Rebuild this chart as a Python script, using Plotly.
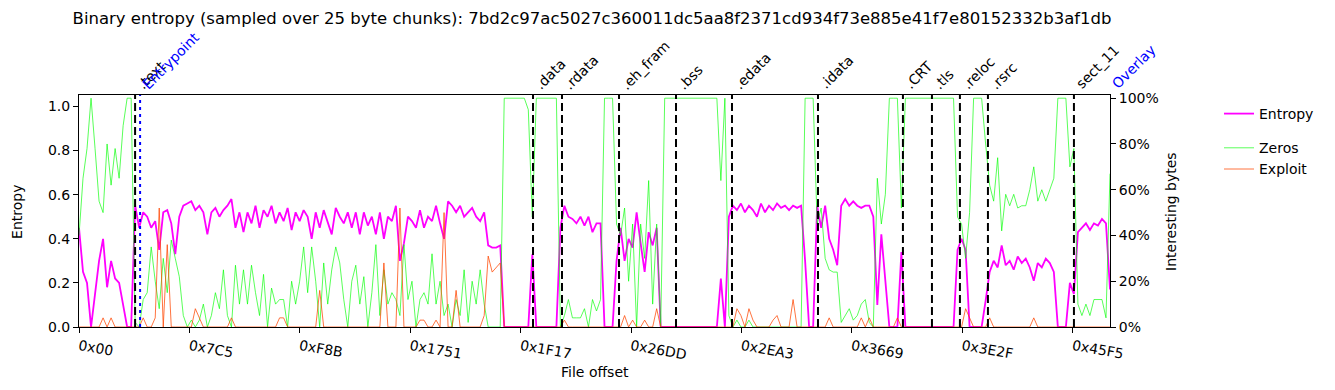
import plotly.graph_objects as go

# ---------------- data ----------------
title_text = ("Binary entropy (sampled over 25 byte chunks): "
              "7bd2c97ac5027c360011dc5aa8f2371cd934f73e885e41f7e80152332b3af1db")

file_size = 18582  # bytes (right edge of the x axis)

entropy = [
    0.45, 0.25, 0.20, 0.0, 0.15, 0.30, 0.40, 0.18, 0.30, 0.22, 0.20, 0.10, 0.0, 0.0, 0.55,
    0.45, 0.52, 0.50, 0.45, 0.48, 0.35, 0.52, 0.53, 0.47, 0.33, 0.50, 0.55, 0.56, 0.57, 0.53,
    0.55, 0.52, 0.42, 0.52, 0.54, 0.50, 0.53, 0.55, 0.58, 0.45, 0.52, 0.43, 0.52, 0.47, 0.55,
    0.45, 0.53, 0.50, 0.55, 0.47, 0.52, 0.48, 0.54, 0.44, 0.52, 0.48, 0.53, 0.50, 0.40, 0.52,
    0.45, 0.53, 0.48, 0.42, 0.54,
    0.50, 0.47, 0.52, 0.45, 0.52, 0.42, 0.52, 0.46, 0.50, 0.42, 0.52, 0.40, 0.50, 0.48, 0.55,
    0.30, 0.38, 0.50, 0.48, 0.45, 0.53, 0.45, 0.50, 0.48, 0.55, 0.47, 0.40, 0.57, 0.55, 0.52,
    0.55, 0.50, 0.52, 0.54, 0.50, 0.48, 0.52, 0.37, 0.36, 0.36, 0.37, 0.0, 0.0, 0.0, 0.0,
    0.0, 0.0, 0.0, 0.33, 0.0, 0.0, 0.0, 0.0, 0.0, 0.0, 0.45, 0.55, 0.50, 0.49, 0.47,
    0.50, 0.46, 0.50, 0.43, 0.47, 0.47, 0.0, 0.0, 0.0, 0.30, 0.45, 0.30, 0.40, 0.36, 0.52,
    0.38, 0.25, 0.43, 0.37, 0.45, 0.0, 0.0, 0.0, 0.0, 0.0, 0.0, 0.0, 0.0, 0.0, 0.0,
    0.0, 0.0, 0.0, 0.0, 0.0, 0.22, 0.0, 0.50, 0.55, 0.53, 0.56, 0.52, 0.55, 0.53, 0.50,
    0.56, 0.52, 0.55, 0.53, 0.56, 0.54, 0.55, 0.53, 0.55, 0.54, 0.55, 0.30, 0.0, 0.0, 0.55,
    0.45, 0.55, 0.40, 0.35, 0.28, 0.55, 0.58, 0.55, 0.57, 0.55, 0.54, 0.55, 0.55, 0.50, 0.10,
    0.42, 0.20, 0.0, 0.0, 0.0, 0.34, 0.0, 0.0, 0.0, 0.0, 0.0, 0.0, 0.0, 0.0, 0.0,
    0.0, 0.0, 0.0, 0.0, 0.35, 0.40, 0.35, 0.0, 0.0, 0.0, 0.0, 0.12, 0.25, 0.30, 0.27,
    0.37, 0.28, 0.30, 0.26, 0.32, 0.29, 0.31, 0.27, 0.21, 0.29, 0.27, 0.31, 0.29, 0.25, 0.0,
    0.0, 0.0, 0.20, 0.15, 0.43, 0.45, 0.47, 0.44, 0.47, 0.46, 0.49, 0.47, 0.17,
]

zeros = [
    0.40, 0.65, 0.78, 1.0, 0.78, 0.55, 0.50, 0.80, 0.62, 0.78, 0.65, 0.88, 1.0, 1.0, 0.02,
    0.0, 0.12, 0.15, 0.35, 0.20, 0.08, 0.30, 0.15, 0.38, 0.30, 0.22, 0.05, 0.0, 0.03, 0.0,
    0.03, 0.10, 0.0, 0.05, 0.15, 0.08, 0.25, 0.05, 0.0, 0.27, 0.10, 0.25, 0.10, 0.27, 0.15,
    0.05, 0.23, 0.0, 0.17, 0.10, 0.12, 0.12, 0.0, 0.20, 0.10, 0.20, 0.35, 0.15, 0.35, 0.20,
    0.0, 0.28, 0.10, 0.25, 0.35,
    0.28, 0.12, 0.0, 0.20, 0.27, 0.10, 0.22, 0.0, 0.15, 0.36, 0.05, 0.25, 0.10, 0.15, 0.12,
    0.05, 0.36, 0.12, 0.20, 0.0, 0.12, 0.15, 0.10, 0.32, 0.10, 0.20, 0.05, 0.10, 0.0, 0.12,
    0.05, 0.25, 0.02, 0.20, 0.10, 0.25, 0.10, 0.0, 0.0, 0.0, 0.0, 1.0, 1.0, 1.0, 1.0,
    1.0, 1.0, 0.95, 0.48, 1.0, 1.0, 1.0, 1.0, 1.0, 1.0, 0.0, 0.05, 0.12, 0.04, 0.04,
    0.04, 0.08, 0.0, 0.12, 0.07, 0.12, 1.0, 1.0, 1.0, 0.45, 0.40, 0.52, 0.20, 0.45, 0.0,
    0.45, 0.30, 0.64, 0.10, 0.45, 0.0, 1.0, 1.0, 1.0, 1.0, 1.0, 1.0, 1.0, 1.0, 1.0,
    1.0, 1.0, 1.0, 1.0, 1.0, 0.64, 1.0, 0.05, 0.0, 0.03, 0.0, 0.0, 0.03, 0.0, 0.0,
    0.0, 0.0, 0.0, 0.0, 0.0, 0.0, 0.0, 0.0, 0.0, 0.0, 0.0, 1.0, 1.0, 1.0, 0.45,
    0.52, 0.30, 0.25, 0.24, 0.24, 0.02, 0.05, 0.08, 0.03, 0.05, 0.10, 0.12, 0.02, 0.0, 0.65,
    0.45, 0.58, 1.0, 1.0, 1.0, 0.52, 1.0, 1.0, 1.0, 1.0, 1.0, 1.0, 1.0, 1.0, 1.0,
    1.0, 1.0, 1.0, 1.0, 0.48, 0.45, 0.30, 0.50, 1.0, 1.0, 1.0, 0.80, 0.62, 0.55, 0.74,
    0.42, 0.58, 0.53, 0.58, 0.52, 0.53, 0.53, 0.60, 0.70, 0.55, 0.60, 0.55, 0.60, 0.65, 1.0,
    1.0, 1.0, 0.70, 0.78, 0.10, 0.05, 0.10, 0.05, 0.12, 0.12, 0.12, 0.04, 0.67,
]

exploit = [
    0, 0, 0, 0, 0, 0, 0.04, 0, 0.04, 0, 0, 0, 0, 0, 0,
    0, 0.04, 0, 0, 0.04, 0.52, 0, 0.36, 0, 0, 0, 0, 0, 0, 0.08,
    0.04, 0, 0, 0, 0, 0, 0, 0, 0.04, 0, 0, 0, 0, 0, 0,
    0, 0, 0, 0, 0, 0.04, 0.04, 0, 0, 0, 0, 0, 0, 0, 0,
    0.16, 0, 0, 0, 0,
    0, 0, 0, 0, 0, 0, 0, 0, 0, 0, 0, 0.28, 0, 0, 0,
    0.52, 0, 0, 0, 0, 0.03, 0.03, 0, 0, 0.03, 0, 0.50, 0, 0, 0.16,
    0, 0, 0, 0, 0, 0, 0.05, 0.31, 0.24, 0.26, 0.28, 0, 0, 0, 0,
    0, 0, 0, 0, 0, 0, 0, 0, 0, 0, 0, 0.03, 0, 0, 0,
    0, 0, 0, 0, 0, 0, 0, 0, 0, 0, 0, 0.05, 0, 0.03, 0,
    0, 0.03, 0, 0, 0.08, 0, 0, 0, 0, 0, 0, 0, 0, 0, 0,
    0, 0, 0, 0, 0, 0, 0, 0, 0, 0.08, 0.05, 0, 0.08, 0.03, 0,
    0, 0, 0, 0.03, 0.05, 0, 0, 0, 0.12, 0, 0, 0, 0, 0, 0,
    0, 0, 0.04, 0, 0, 0, 0, 0, 0, 0, 0.04, 0, 0.04, 0, 0,
    0, 0, 0, 0, 0.04, 0, 0, 0, 0, 0, 0, 0, 0, 0, 0,
    0, 0, 0, 0, 0, 0, 0.08, 0.04, 0, 0, 0, 0, 0.04, 0, 0,
    0, 0, 0, 0, 0, 0, 0, 0, 0.04, 0, 0, 0, 0, 0, 0,
    0, 0, 0, 0, 0, 0, 0, 0, 0, 0, 0, 0, 0,
]

section_names = [".text", ".data", ".rdata", ".eh_fram", ".bss", ".edata", ".idata",
                 ".CRT", ".tls", ".reloc", ".rsrc", "sect_11"]
section_offsets = [1011, 8183, 8705, 9733, 10760, 11769, 13319,
                   14850, 15373, 15877, 16382, 17932]

entrypoint_offset = 1101
overlay_offset = 18582

tick_labels = ["0x00", "0x7C5", "0xF8B", "0x1751", "0x1F17", "0x26DD",
               "0x2EA3", "0x3669", "0x3E2F", "0x45F5"]
tick_values = [int(t, 16) for t in tick_labels]

left_ticks = [0.0, 0.2, 0.4, 0.6, 0.8, 1.0]
right_ticks = [0.0, 0.2, 0.4, 0.6, 0.8, 1.0]
right_tick_text = ["0%", "20%", "40%", "60%", "80%", "100%"]

# ---------------- figure ----------------
n = len(entropy)
x = [i * file_size / (n - 1) for i in range(n)]

FONT = "DejaVu Sans"
fig = go.Figure()

fig.add_trace(go.Scatter(x=x, y=entropy, name="Entropy", mode="lines",
                         line=dict(color="#ff00ff", width=1.8),
                         legendgroup="a", yaxis="y"))
fig.add_trace(go.Scatter(x=x, y=zeros, name="Zeros", mode="lines",
                         line=dict(color="rgba(0,255,0,0.65)", width=1),
                         legendgroup="b", yaxis="y2"))
fig.add_trace(go.Scatter(x=x, y=exploit, name="Exploit", mode="lines",
                         line=dict(color="rgba(255,69,0,0.75)", width=1),
                         legendgroup="b", yaxis="y2"))

shapes = []
annotations = []
for name, off in zip(section_names, section_offsets):
    shapes.append(dict(type="line", xref="x", yref="paper", x0=off, x1=off, y0=0, y1=1,
                       line=dict(color="black", width=2, dash="8px,4px"), layer="above"))
    annotations.append(dict(x=off, y=1, xref="x", yref="paper", text=name, xshift=-4,
                            textangle=-45, showarrow=False, xanchor="left", yanchor="bottom",
                            font=dict(family=FONT, size=14, color="black")))

shapes.append(dict(type="line", xref="x", yref="paper", x0=entrypoint_offset,
                   x1=entrypoint_offset, y0=0, y1=1,
                   line=dict(color="blue", width=2, dash="3px,4px"), layer="above"))
annotations.append(dict(x=entrypoint_offset, y=1, xref="x", yref="paper", text="Entrypoint",
                        xshift=-4, textangle=-45, showarrow=False, xanchor="left",
                        yanchor="bottom", font=dict(family=FONT, size=14, color="blue")))
annotations.append(dict(x=overlay_offset, y=1, xref="x", yref="paper", text="Overlay",
                        xshift=-4, textangle=-45, showarrow=False, xanchor="left",
                        yanchor="bottom", font=dict(family=FONT, size=14, color="blue")))

# axis titles
annotations.append(dict(x=-0.0601, y=0.496, xref="paper", yref="paper", text="Entropy",
                        textangle=-90, showarrow=False, xanchor="center", yanchor="middle",
                        font=dict(family=FONT, size=14, color="black")))
annotations.append(dict(x=1.0592, y=0.496, xref="paper", yref="paper",
                        text="Interesting bytes", textangle=-90, showarrow=False,
                        xanchor="center", yanchor="middle",
                        font=dict(family=FONT, size=14, color="black")))
annotations.append(dict(x=0.5, y=-0.194, xref="paper", yref="paper", text="File offset",
                        showarrow=False, xanchor="center", yanchor="middle",
                        font=dict(family=FONT, size=14, color="black")))

fig.update_layout(
    width=1335, height=390,
    margin=dict(l=79, r=225, t=95, b=63),
    paper_bgcolor="white", plot_bgcolor="white",
    font=dict(family=FONT, size=14, color="black"),
    title=dict(text=title_text, x=0.4435, xref="container", xanchor="center",
               y=1 - 18 / 390, yanchor="middle", font=dict(family=FONT, size=16.5)),
    showlegend=True,
    legend=dict(xref="container", yref="container", x=1219 / 1335, y=1 - 98 / 390,
                xanchor="left", yanchor="top", traceorder="grouped", tracegroupgap=13,
                bgcolor="rgba(0,0,0,0)", font=dict(family=FONT, size=14)),
    xaxis=dict(range=[0, file_size], tickvals=tick_values, ticktext=tick_labels,
               tickangle=10, ticks="outside", ticklen=5, tickcolor="black",
               showline=True, linecolor="black", linewidth=1, mirror=True,
               showgrid=False, zeroline=False),
    yaxis=dict(range=[0, 1.052], tickvals=left_ticks,
               ticktext=[f"{v:.1f}" for v in left_ticks],
               ticks="outside", ticklen=5, tickcolor="black",
               showline=True, linecolor="black", linewidth=1, mirror=True,
               showgrid=False, zeroline=False),
    yaxis2=dict(range=[0, 1.014], overlaying="y", side="right",
                tickvals=right_ticks, ticktext=right_tick_text,
                ticks="outside", ticklen=5, tickcolor="black",
                showline=False, showgrid=False, zeroline=False),
    shapes=shapes, annotations=annotations,
)

fig.write_html("out.html",
               config={"displayModeBar": False},
               post_script="document.body.style.margin='0';document.body.style.overflow='hidden';")
